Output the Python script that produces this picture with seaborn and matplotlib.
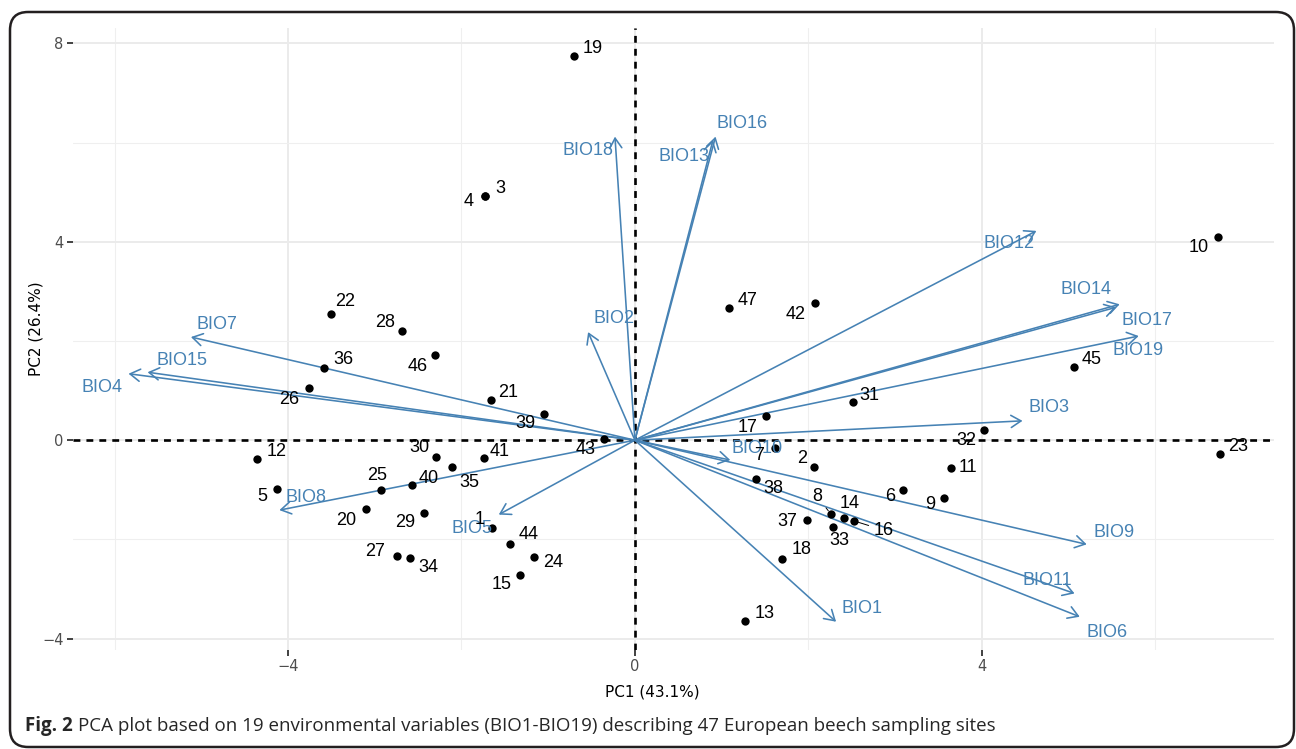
import matplotlib
matplotlib.use("Agg")
import matplotlib.pyplot as plt
from matplotlib.patches import FancyBboxPatch
from matplotlib.ticker import MultipleLocator
import pandas as pd
import seaborn as sns

# ---- sampling-site scores on the first two principal components ----
site_ids = list(range(1, 48))
pc1_scores = [-1.65, 2.07, -1.73, -1.73, -4.13, 3.09, 1.62, 2.26, 3.56, 6.72,
              3.65, -4.36, 1.27, 2.41, -1.33, 2.53, 1.51, 1.70, -0.70, -3.10,
              -1.66, -3.50, 6.75, -1.16, -2.93, -3.76, -2.74, -2.69, -2.43, -2.29,
              2.51, 4.03, 2.29, -2.59, -2.11, -3.59, 1.98, 1.40, -1.05, -2.57,
              -1.74, 2.08, -0.36, -1.44, 5.06, -2.30, 1.08]
pc2_scores = [-1.77, -0.54, 4.92, 4.92, -0.98, -1.01, -0.15, -1.49, -1.16, 4.09,
              -0.57, -0.38, -3.65, -1.57, -2.72, -1.63, 0.48, -2.39, 7.74, -1.39,
              0.82, 2.55, -0.28, -2.36, -1.00, 1.05, -2.33, 2.21, -1.46, -0.33,
              0.76, 0.20, -1.75, -2.37, -0.55, 1.45, -1.61, -0.79, 0.52, -0.91,
              -0.36, 2.76, 0.03, -2.10, 1.47, 1.72, 2.66]

# ---- variable loadings (arrow tips) ----
bio_vars = ["BIO1", "BIO2", "BIO3", "BIO4", "BIO5", "BIO6", "BIO7", "BIO8",
            "BIO9", "BIO10", "BIO11", "BIO12", "BIO13", "BIO14", "BIO15",
            "BIO16", "BIO17", "BIO18", "BIO19"]
bio_pc1 = [2.32, -0.54, 4.47, -5.84, -1.57, 5.13, -5.12, -4.10, 5.21, 1.10,
           5.07, 4.63, 0.90, 5.59, -5.62, 0.93, 5.55, -0.23, 5.81]
bio_pc2 = [-3.66, 2.18, 0.39, 1.34, -1.50, -3.56, 2.08, -1.41, -2.10, -0.40,
           -3.09, 4.22, 6.05, 2.74, 1.37, 6.12, 2.68, 6.12, 2.10]

x_ticks = [-4, 0, 4]
y_ticks = [-4, 0, 4, 8]
x_title = "PC1 (43.1%)"
y_title = "PC2 (26.4%)"
caption_bold = "Fig. 2"
caption_text = ("PCA plot based on 19 environmental variables (BIO1-BIO19) "
                "describing 47 European beech sampling sites")

# label offsets in pixels (dx, dy downward) so labels sit clear of the marks
site_offsets = {
    1: (-12, -8), 2: (-12, -8), 3: (15, -8), 4: (-16, 5), 5: (-14, 8),
    6: (-13, 6), 7: (-16, 8), 8: (-14, -18), 9: (-13, 7), 10: (-19, 10),
    11: (17, -1), 12: (20, -8), 13: (20, -8), 14: (6, -15), 15: (-18, 9),
    16: (29, 9), 17: (-18, 11), 18: (19, -9), 19: (18, -8), 20: (-20, 11),
    21: (17, -7), 22: (14, -12), 23: (18, -8), 24: (19, 5), 25: (-4, -14),
    26: (-20, 11), 27: (-22, -4), 28: (-17, -8), 29: (-19, 10), 30: (-17, -9),
    31: (17, -7), 32: (-18, 10), 33: (6, 14), 34: (18, 10), 35: (17, 15),
    36: (20, -9), 37: (-19, 1), 38: (17, 9), 39: (-18, 9), 40: (17, -7),
    41: (16, -7), 42: (-20, 11), 43: (-18, 11), 44: (19, -10), 45: (18, -8),
    46: (-18, 12), 47: (19, -8),
}
leader_sites = {8, 16}
bio_offsets = {
    "BIO1": (26, -13), "BIO2": (26, -14), "BIO3": (26, -13), "BIO4": (-26, 14),
    "BIO5": (-27, 14), "BIO6": (27, 16), "BIO7": (26, -13), "BIO8": (27, -13),
    "BIO9": (27, -12), "BIO10": (27, -12), "BIO11": (-27, -13),
    "BIO12": (-27, 13), "BIO13": (-29, 16), "BIO14": (-34, -15),
    "BIO15": (34, -12), "BIO16": (27, -13), "BIO17": (31, 13),
    "BIO18": (-27, 14), "BIO19": (-1, 14),
}

sites = pd.DataFrame({"site": site_ids, "PC1": pc1_scores, "PC2": pc2_scores})
loadings = pd.DataFrame({"var": bio_vars, "PC1": bio_pc1, "PC2": bio_pc2})

sns.set_theme(style="white")
plt.rcParams["font.family"] = ["DejaVu Sans"]

W, H = 1296, 749
fig = plt.figure(figsize=(W / 100, H / 100), dpi=100)
ax = fig.add_axes([73 / W, 1 - 650 / H, (1274 - 73) / W, (650 - 28) / H])

STEEL = "#4682B4"
LABEL_FONT = ["Liberation Sans", "DejaVu Sans"]

ax.set_xlim(-6.48, 7.37)
ax.set_ylim(-4.23, 8.31)
ax.set_xticks(x_ticks)
ax.set_yticks(y_ticks)
ax.xaxis.set_minor_locator(MultipleLocator(2))
ax.yaxis.set_minor_locator(MultipleLocator(2))
ax.grid(which="major", color="#EBEBEB", lw=1.4)
ax.grid(which="minor", color="#EFEFEF", lw=0.8)
ax.set_axisbelow(True)
for s in ax.spines.values():
    s.set_visible(False)
ax.tick_params(which="major", length=4.3, width=1.3, color="#333333",
               labelsize=10.5, labelcolor="#4D4D4D", pad=2.5,
               bottom=True, left=True)
ax.tick_params(which="minor", length=0)

# reference lines through the origin
ax.axhline(0, color="black", lw=1.9, ls=(0, (2.6, 2.3)), zorder=2)
ax.axvline(0, color="black", lw=1.9, ls=(0, (2.6, 2.3)), zorder=2)

# loading arrows and their labels
for _, row in loadings.iterrows():
    ax.annotate("", xy=(row.PC1, row.PC2), xytext=(0, 0),
                arrowprops=dict(arrowstyle="->,head_length=0.36,head_width=0.22",
                                color=STEEL, lw=1.15, shrinkA=0, shrinkB=0,
                                mutation_scale=20),
                zorder=3)
    dx, dy = bio_offsets[row["var"]]
    ax.annotate(row["var"], xy=(row.PC1, row.PC2), xytext=(dx, -dy),
                textcoords="offset pixels", ha="center", va="center",
                color=STEEL, fontsize=13, family=LABEL_FONT, zorder=5)

# site scores
sns.scatterplot(data=sites, x="PC1", y="PC2", color="black", s=36,
                linewidth=0, ax=ax, zorder=4, legend=False)
for _, row in sites.iterrows():
    sid = int(row.site)
    dx, dy = site_offsets[sid]
    props = None
    if sid in leader_sites:
        props = dict(arrowstyle="-", color="black", lw=0.7,
                     shrinkA=1, shrinkB=3)
    ax.annotate(str(sid), xy=(row.PC1, row.PC2), xytext=(dx, -dy),
                textcoords="offset pixels", ha="center", va="center",
                color="black", fontsize=13, family=LABEL_FONT,
                arrowprops=props, zorder=5)

ax.set_xlabel(x_title, fontsize=11, color="black")
ax.set_ylabel(y_title, fontsize=11, color="black")
ax.xaxis.set_label_coords((652 - 73) / (1274 - 73), -(692 - 650) / (650 - 28))
ax.yaxis.set_label_coords(-(73 - 36) / (1274 - 73), (650 - 329) / (650 - 28))
ax.xaxis.label.set_va("center")
ax.yaxis.label.set_va("center")

# rounded frame around the whole figure
frame = FancyBboxPatch((10 / W, 1 - 747 / H), (1294 - 10) / W, (747 - 12) / H,
                       boxstyle="round,pad=0,rounding_size=0.014",
                       transform=fig.transFigure, fill=False,
                       ec="#231F20", lw=1.8, mutation_aspect=W / H)
fig.patches.append(frame)

# caption: bold figure number followed by the description
cap_font = ["Open Sans", "DejaVu Sans"]
cap_y = 1 - 731 / H
fig.canvas.draw()
renderer = fig.canvas.get_renderer()
size = 12.0
t1 = fig.text(25 / W, cap_y, caption_bold + " ", fontsize=size,
              fontweight="bold", family=cap_font, va="baseline", ha="left")
t2 = fig.text(0, cap_y, caption_text, fontsize=size, family=cap_font,
              va="baseline", ha="left")
w1 = t1.get_window_extent(renderer).width
w2 = t2.get_window_extent(renderer).width
scale = (988 - 25) / (w1 + w2)
size *= scale
t1.set_fontsize(size)
t2.set_fontsize(size)
w1 = t1.get_window_extent(renderer).width
t2.set_x((25 + w1) / W)

fig.savefig("out.png", dpi=100)
